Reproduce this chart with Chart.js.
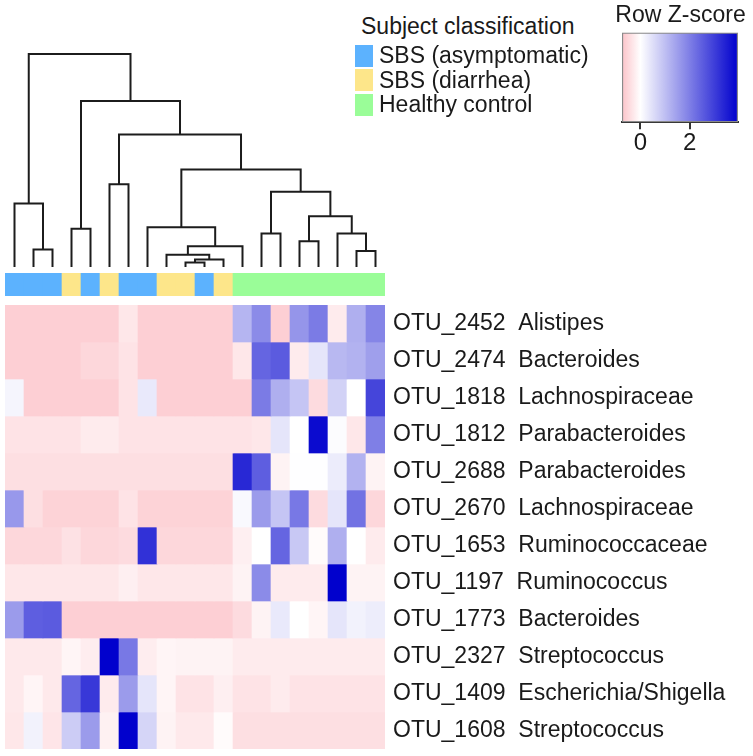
<!DOCTYPE html>
<html>
<head>
<meta charset="utf-8">
<script src="https://cdn.jsdelivr.net/npm/chart.js@4.4.0/dist/chart.umd.min.js"></script>
<style>
  body { margin: 0; background: #fff; font-family: "Liberation Sans", Arial, sans-serif; color: #1a1a1a; }
  #wrap { position: relative; width: 753px; height: 756px; overflow: hidden; background: #fff; }
  #wrap canvas { position: absolute; }
  .leg { position: absolute; white-space: nowrap; font-size: 23px; }
  .sw { position: absolute; left: 355px; width: 18px; height: 22px; }
</style>
</head>
<body>
<div id="wrap">
  <canvas id="dendro" width="380" height="223" style="left:5px;top:44px"></canvas>
  <canvas id="colbar" width="380" height="23" style="left:5px;top:273px"></canvas>
  <canvas id="heat" width="748" height="444" style="left:5px;top:305px"></canvas>
  <canvas id="key" width="143" height="158" style="left:609px;top:0px"></canvas>
  <div id="legend"></div>
</div>
<script>
// subjects (columns) in dendrogram order and their classification
const colIds = ["S1","S2","S3","S4","S5","S6","S7","S8","S9","S10","S11","S12","S13","S14","S15","S16","S17","S18","S19","S20"];
const colGroups = ["A","A","A","D","A","D","A","A","D","D","A","D","H","H","H","H","H","H","H","H"];
const groupNames = { A: "SBS (asymptomatic)", D: "SBS (diarrhea)", H: "Healthy control" };
const groupColors = { A: "#5cb2fe", D: "#fde68a", H: "#9afd98" };

// column dendrogram: [left, right, height], numbers are leaf positions
const colTree = [[0, [1, 2, 8.2], 29.8],
  [[3, 4, 18.0],
    [[5, 6, 38.9],
      [[7, [[8, [[9, 10, 2.1], 11, 3.5], 5.8], 12, 9.7], 18.7],
        [[13, 14, 15.7], [[15, 16, 12.1], [17, [18, 19, 7.5], 15.7], 23.8], 35.3], 45.8],
      62.2],
    77.9],
  100];

// row z-scores
const rowLabels = ["OTU_2452  Alistipes", "OTU_2474  Bacteroides", "OTU_1818  Lachnospiraceae",
  "OTU_1812  Parabacteroides", "OTU_2688  Parabacteroides", "OTU_2670  Lachnospiraceae",
  "OTU_1653  Ruminococcaceae", "OTU_1197  Ruminococcus", "OTU_1773  Bacteroides",
  "OTU_2327  Streptococcus", "OTU_1409  Escherichia/Shigella", "OTU_1608  Streptococcus"];
const otu2452 = [-0.6,-0.6,-0.6,-0.6,-0.6,-0.6,-0.3,-0.6,-0.6,-0.6,-0.6,-0.6,1.15,1.8,-0.6,1.65,2.05,-0.25,1.25,1.9];
const otu2474 = [-0.6,-0.6,-0.6,-0.6,-0.5,-0.5,-0.35,-0.6,-0.6,-0.6,-0.6,-0.6,-0.3,2.4,2.55,-0.25,0.4,1.1,1.2,1.5];
const otu1818 = [0.15,-0.6,-0.6,-0.6,-0.6,-0.6,-0.35,0.35,-0.6,-0.6,-0.6,-0.6,-0.6,2.05,1.25,0.9,-0.45,0.7,0.0,2.9];
const otu1812 = [-0.35,-0.35,-0.35,-0.35,-0.25,-0.25,-0.35,-0.35,-0.35,-0.35,-0.35,-0.35,-0.35,-0.3,0.4,0.0,3.8,0.05,-0.3,2.0];
const otu2688 = [-0.4,-0.4,-0.4,-0.4,-0.4,-0.4,-0.4,-0.4,-0.4,-0.4,-0.4,-0.4,3.35,2.5,-0.15,0.02,0.02,0.3,1.2,-0.15];
const otu2670 = [1.6,-0.4,-0.55,-0.55,-0.55,-0.55,-0.35,-0.55,-0.55,-0.55,-0.55,-0.55,0.1,1.55,0.9,2.1,-0.45,0.4,2.2,-0.5];
const otu1653 = [-0.5,-0.5,-0.5,-0.38,-0.5,-0.5,-0.45,3.2,-0.5,-0.5,-0.5,-0.5,-0.2,0.0,2.4,0.85,-0.05,1.25,0.0,-0.25];
const otu1197 = [-0.3,-0.3,-0.3,-0.3,-0.3,-0.3,-0.2,-0.3,-0.3,-0.3,-0.3,-0.3,-0.15,1.8,-0.25,-0.25,-0.25,3.95,-0.15,-0.15];
const otu1773 = [1.55,2.5,2.55,-0.6,-0.6,-0.6,-0.6,-0.6,-0.6,-0.6,-0.6,-0.6,-0.45,-0.15,0.35,0.0,-0.12,0.4,0.2,0.28];
const otu2327 = [-0.28,-0.28,-0.28,-0.12,-0.22,3.95,2.1,-0.22,-0.12,-0.15,-0.15,-0.15,-0.25,-0.25,-0.25,-0.25,-0.25,-0.25,-0.25,-0.25];
const otu1409 = [-0.28,-0.12,-0.28,2.4,3.1,-0.25,1.55,0.4,-0.12,-0.35,-0.35,-0.2,-0.35,-0.35,-0.25,-0.35,-0.35,-0.35,-0.35,-0.35];
const otu1608 = [-0.3,0.2,-0.32,0.8,1.55,-0.18,3.95,0.65,-0.15,-0.28,-0.28,-0.05,-0.4,-0.4,-0.4,-0.4,-0.4,-0.4,-0.4,-0.4];
const rows = [otu2452, otu2474, otu1818, otu1812, otu2688, otu2670, otu1653, otu1197, otu1773, otu2327, otu1409, otu1608];

// colour key
const zMin = -0.75, zMax = 3.97;
const keyTicks = [0, 2];

Chart.defaults.font.family = '"Liberation Sans", Arial, sans-serif';
Chart.defaults.color = "#1a1a1a";

const lowRGB = [252, 195, 201], midRGB = [255, 255, 255], highRGB = [0, 0, 205];
function mix(a, b, t) {
  return "rgb(" + a.map((v, i) => Math.round(v + (b[i] - v) * t)).join(",") + ")";
}
function zColor(z) {
  if (z < 0) return mix(midRGB, lowRGB, Math.min(1, z / zMin));
  return mix(midRGB, highRGB, Math.min(1, z / zMax));
}

const noPlugins = { legend: { display: false }, tooltip: { enabled: false } };

// dendrogram segments from the tree
const segments = [];
function walk(node) {
  if (typeof node === "number") return { x: node + 0.5, h: 0 };
  const a = walk(node[0]), b = walk(node[1]), h = node[2];
  segments.push([{ x: a.x, y: a.h }, { x: a.x, y: h }, { x: b.x, y: h }, { x: b.x, y: b.h }]);
  return { x: (a.x + b.x) / 2, h: h };
}
walk(colTree);

new Chart(document.getElementById("dendro"), {
  type: "scatter",
  data: {
    datasets: segments.map(seg => ({
      data: seg, showLine: true, borderColor: "#1c1c1c", borderWidth: 2,
      pointRadius: 0, clip: false, tension: 0
    }))
  },
  options: {
    responsive: false, animation: false, plugins: noPlugins,
    scales: {
      x: { type: "linear", min: 0, max: colIds.length, display: false },
      y: { min: 0, max: 104.7, display: false }
    }
  }
});

new Chart(document.getElementById("colbar"), {
  type: "bar",
  data: {
    labels: colIds,
    datasets: [{
      data: colGroups.map(() => 1),
      backgroundColor: colGroups.map(g => groupColors[g]),
      borderWidth: 0, barPercentage: 1, categoryPercentage: 1
    }]
  },
  options: {
    responsive: false, animation: false, plugins: noPlugins,
    scales: { x: { display: false }, y: { display: false, min: 0, max: 1 } }
  }
});

new Chart(document.getElementById("heat"), {
  type: "bar",
  data: {
    labels: colIds,
    datasets: rows.map((vals, i) => ({
      label: rowLabels[i],
      data: vals.map(() => 1),
      backgroundColor: vals.map(zColor),
      borderWidth: 0, barPercentage: 1, categoryPercentage: 1
    }))
  },
  options: {
    responsive: false, animation: false, plugins: noPlugins,
    scales: {
      x: { stacked: true, display: false },
      y: {
        stacked: true, position: "right", reverse: true, min: 0, max: rowLabels.length,
        grid: { display: false, drawTicks: false },
        border: { display: false },
        ticks: {
          padding: 8, autoSkip: false, crossAlign: "near", color: "#1a1a1a",
          font: { size: 23 },
          callback: (v, i) => rowLabels[i]
        },
        afterBuildTicks: s => { s.ticks = rowLabels.map((_, i) => ({ value: i + 0.5 })); },
        afterFit: s => { s.width = 748 - 380; s.paddingTop = 0; s.paddingBottom = 0; }
      }
    }
  }
});

// empty side axes keep the key box narrower than the title
const sideAxis = (pos, w) => ({
  position: pos, display: true,
  grid: { display: false, drawTicks: false }, border: { display: false },
  ticks: { display: false },
  afterFit: s => { s.width = w; }
});

new Chart(document.getElementById("key"), {
  type: "bar",
  data: {
    labels: ["z"],
    datasets: [{
      data: [[zMin, zMax]],
      backgroundColor: ctx => {
        const chart = ctx.chart;
        if (!chart.chartArea) return "#fff";
        const xs = chart.scales.x;
        const g = chart.ctx.createLinearGradient(xs.getPixelForValue(zMin), 0, xs.getPixelForValue(zMax), 0);
        [zMin, 0, zMax].forEach(z => g.addColorStop((z - zMin) / (zMax - zMin), zColor(z)));
        return g;
      },
      borderColor: "#8a8a8a", borderWidth: 1.5, borderSkipped: false,
      barPercentage: 1, categoryPercentage: 1
    }]
  },
  options: {
    indexAxis: "y", responsive: false, animation: false,
    layout: { padding: 0 },
    plugins: {
      legend: { display: false }, tooltip: { enabled: false },
      title: { display: true, text: "Row Z-score", color: "#1a1a1a",
        font: { size: 23, weight: "normal" }, padding: { top: 2, bottom: 3 } }
    },
    scales: {
      y: sideAxis("left", 13),
      yRight: Object.assign({ type: "linear" }, sideAxis("right", 14)),
      x: {
        min: zMin, max: zMax,
        afterBuildTicks: s => { s.ticks = keyTicks.map(v => ({ value: v })); },
        grid: { drawOnChartArea: false, drawTicks: true, tickLength: 7, color: "#333", lineWidth: 2 },
        border: { display: true, color: "#333", width: 2 },
        ticks: { padding: 0, maxRotation: 0, color: "#1a1a1a", font: { size: 24 } }
      }
    }
  }
});

// subject classification legend
const legend = document.getElementById("legend");
let html = '<div class="leg" style="left:361px;top:13px;line-height:27px">Subject classification</div>';
Object.keys(groupNames).forEach((g, i) => {
  const top = 43 + i * 24.5;
  html += '<div class="sw" style="top:' + (top + 1.5) + 'px;background:' + groupColors[g] + '"></div>';
  html += '<div class="leg" style="left:379px;top:' + top + 'px;line-height:24.5px">' + groupNames[g] + '</div>';
});
legend.innerHTML = html;
</script>
</body>
</html>
